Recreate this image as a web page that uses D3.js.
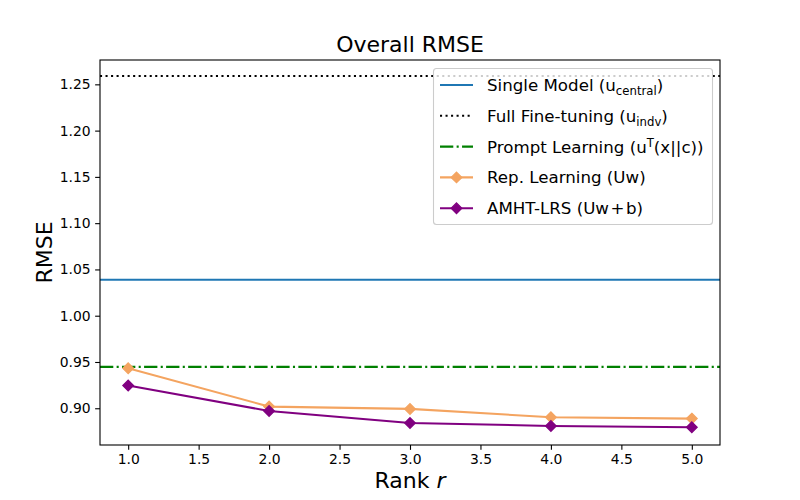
<!DOCTYPE html>
<html><head><meta charset="utf-8">
<script src="https://cdn.jsdelivr.net/npm/d3@7/dist/d3.min.js"></script>
<style>body{margin:0;background:#fff}svg{display:block;font-family:"DejaVu Sans",sans-serif}</style>
</head><body>
<script>
const ranks = [1, 2, 3, 4, 5];
const repLearning = [0.9433, 0.9018, 0.8993, 0.8903, 0.8888];
const amhtLrs = [0.9245, 0.8971, 0.8841, 0.8809, 0.8795];
const singleModel = 1.0389;
const fullFineTuning = 1.259;
const promptLearning = 0.9447;
const xTicks = [1.0, 1.5, 2.0, 2.5, 3.0, 3.5, 4.0, 4.5, 5.0];
const yTicks = [0.90, 0.95, 1.00, 1.05, 1.10, 1.15, 1.20, 1.25];

const W = 800, H = 500;
const L = 100, R = 720, T = 60, B = 445;
const svg = d3.select("body").append("svg").attr("width", W).attr("height", H);
const x = d3.scaleLinear().domain([0.8, 5.2]).range([L, R]);
const y = d3.scaleLinear().domain([0.8603, 1.2763]).range([B, T]);

// horizontal reference lines
const hl = [
  {v: singleModel, color: "#1f77b4", dash: null},
  {v: fullFineTuning, color: "#000000", dash: "2.08,3.44"},
  {v: promptLearning, color: "#008000", dash: "13.3,3.33,2.08,3.33"}
];
hl.forEach(d => {
  svg.append("line").attr("x1", L).attr("x2", R).attr("y1", y(d.v)).attr("y2", y(d.v))
    .attr("stroke", d.color).attr("stroke-width", 2.08)
    .attr("stroke-dasharray", d.dash);
});

const lineGen = d3.line().x((d, i) => x(ranks[i])).y(d => y(d));
const diamond = (cx, cy, r) => `M${cx},${cy - r}L${cx + r},${cy}L${cx},${cy + r}L${cx - r},${cy}Z`;
function series(vals, color) {
  svg.append("path").datum(vals).attr("d", lineGen).attr("fill", "none")
    .attr("stroke", color).attr("stroke-width", 2.08);
  svg.append("g").selectAll("path").data(vals).join("path")
    .attr("d", (d, i) => diamond(x(ranks[i]), y(d), 5.3))
    .attr("fill", color).attr("stroke", color).attr("stroke-width", 1.3);
}
series(repLearning, "#f4a460");
series(amhtLrs, "#800080");

// axes frame
svg.append("rect").attr("x", L).attr("y", T).attr("width", R - L).attr("height", B - T)
  .attr("fill", "none").attr("stroke", "#000").attr("stroke-width", 1.1);

const xAxis = d3.axisBottom(x).tickValues(xTicks).tickFormat(d3.format(".1f")).tickSizeOuter(0).tickSize(4.86).tickPadding(4.5);
const gx = svg.append("g").attr("transform", `translate(0,${B})`).call(xAxis);
const yAxis = d3.axisLeft(y).tickValues(yTicks).tickFormat(d3.format(".2f")).tickSizeOuter(0).tickSize(4.86).tickPadding(4.5);
const gy = svg.append("g").attr("transform", `translate(${L},0)`).call(yAxis);
[gx, gy].forEach(g => {
  g.select(".domain").remove();
  g.selectAll(".tick line").attr("stroke", "#000").attr("stroke-width", 1.1);
  g.selectAll(".tick text").attr("fill", "#000").style("font-size", "13.9px").style("font-family", "DejaVu Sans");
});

// title & labels
svg.append("text").attr("x", (L + R) / 2).attr("y", 52).attr("text-anchor", "middle")
  .style("font-size", "22px").text("Overall RMSE");
const xl = svg.append("text").attr("x", (L + R) / 2).attr("y", 488).attr("text-anchor", "middle")
  .style("font-size", "22px");
xl.append("tspan").text("Rank ");
xl.append("tspan").style("font-style", "italic").text("r");
svg.append("text").attr("transform", `translate(52,${(T + B) / 2}) rotate(-90)`).attr("text-anchor", "middle")
  .style("font-size", "22px").text("RMSE");

// legend
const lg = svg.append("g");
lg.append("rect").attr("x", 433.5).attr("y", 68.5).attr("width", 279).attr("height", 156).attr("rx", 3)
  .attr("fill", "#fff").attr("fill-opacity", 0.8).attr("stroke", "#cccccc").attr("stroke-width", 1.1);
// parts: [text, kind] kind 0 normal, 1 subscript, -1 superscript, 2 binary operator (tight spacing)
const items = [
  {color: "#1f77b4", dash: null, marker: false, parts: [["Single Model (u", 0], ["central", 1], [")", 0]]},
  {color: "#000", dash: "2.08,3.44", marker: false, parts: [["Full Fine-tuning (u", 0], ["indv", 1], [")", 0]]},
  {color: "#008000", dash: "13.3,3.33,2.08,3.33", marker: false, parts: [["Prompt Learning (u", 0], ["T", -1], ["(x||c))", 0]]},
  {color: "#f4a460", dash: null, marker: true, parts: [["Rep. Learning (Uw)", 0]]},
  {color: "#800080", dash: null, marker: true, parts: [["AMHT-LRS (Uw", 0], ["+", 2], ["b)", 3]]}
];
items.forEach((it, i) => {
  const cy = 85 + i * 30.8;
  lg.append("line").attr("x1", 440).attr("x2", 473).attr("y1", cy).attr("y2", cy)
    .attr("stroke", it.color).attr("stroke-width", 2.08).attr("stroke-dasharray", it.dash);
  if (it.marker) lg.append("path").attr("d", diamond(456.5, cy, 5.3)).attr("fill", it.color)
    .attr("stroke", it.color).attr("stroke-width", 1.3);
  const t = lg.append("text").attr("x", 487).attr("y", cy + 6).style("font-size", "16.67px");
  let prev = 0;
  it.parts.forEach(([s, k]) => {
    const off = k === 1 ? 4 : (k === -1 ? -6 : 0);
    const sp = t.append("tspan").attr("dy", off - prev).text(s);
    if (k === 1 || k === -1) sp.style("font-size", "11.7px");
    if (k === 2 || k === 3) sp.attr("dx", 1.5);
    prev = off;
  });
});
</script>
</body></html>
